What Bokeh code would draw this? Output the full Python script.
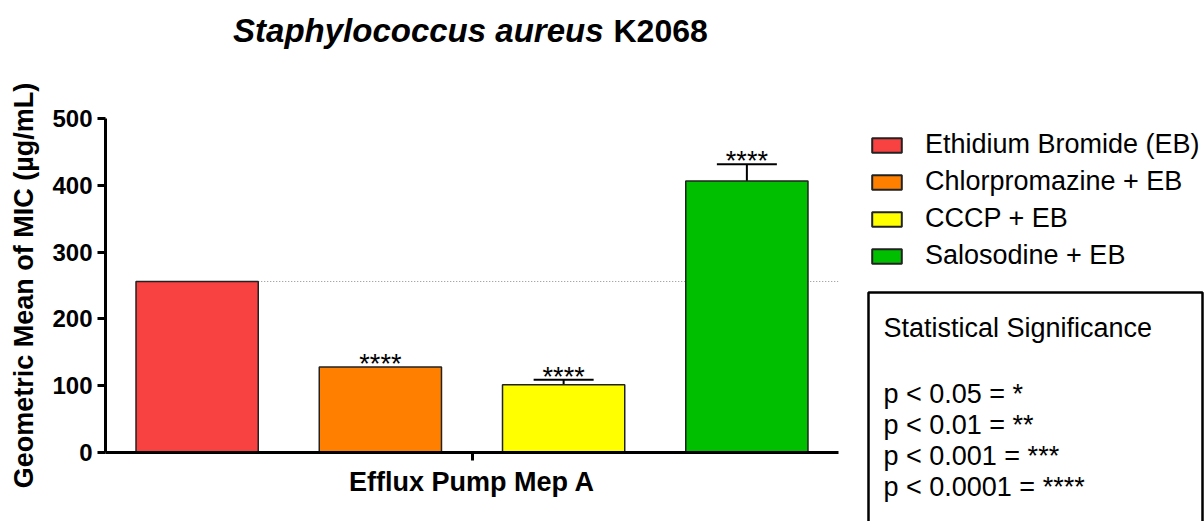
from bokeh.plotting import figure
from bokeh.layouts import column, row
from bokeh.models import (ColumnDataSource, Legend, LegendItem, BoxAnnotation,
                          FixedTicker, Whisker, Range1d, TeeHead)
from bokeh.core.properties import value
from bokeh.embed import file_html
from bokeh.resources import INLINE

# ---------------- data ----------------
treatments = ["Ethidium Bromide (EB)", "Chlorpromazine + EB", "CCCP + EB", "Salosodine + EB"]
gm_mic = [256, 128, 101.6, 406.4]
err_low = [256, 128, 95.3, 380.0]
err_high = [256, 128, 108.8, 431.6]
has_err = [False, False, True, True]
sig_marks = ["", "****", "****", "****"]
colors = ["#F84141", "#FF8000", "#FFFF00", "#00BE00"]
y_ticks = [0, 100, 200, 300, 400, 500]
title_italic = "Staphylococcus aureus"
title_plain = "K2068"
x_label = "Efflux Pump Mep A"
y_label = "Geometric Mean of MIC (µg/mL)"
sig_title = "Statistical Significance"
sig_lines = ["p < 0.05 = *", "p < 0.01 = **", "p < 0.001 = ***", "p < 0.0001 = ****"]

FONT = "Liberation Sans"
TOTAL_W, TOTAL_H = 1204, 521
TITLE_H = 60
MAIN_W = 850
SIDE_W = TOTAL_W - MAIN_W
BODY_H = TOTAL_H - TITLE_H


def bare_figure(w, h):
    f = figure(width=w, height=h, output_backend="svg", toolbar_location=None,
               x_axis_type=None, y_axis_type=None,
               x_range=Range1d(0, w), y_range=Range1d(h, 0),
               min_border_left=0, min_border_right=0, min_border_top=0, min_border_bottom=0)
    f.outline_line_color = None
    f.xgrid.visible = False
    f.ygrid.visible = False
    return f


# ---------------- title ----------------
tf = bare_figure(TOTAL_W, TITLE_H)
tf.text(x=[603], y=[30], text=[title_italic], text_align="right", text_baseline="middle",
        text_font=value(FONT), text_font_style="bold italic", text_font_size="33px",
        text_color="black")
tf.text(x=[613], y=[30], text=[title_plain], text_align="left", text_baseline="middle",
        text_font=value(FONT), text_font_style="bold", text_font_size="32px",
        text_color="black")

# ---------------- main chart ----------------
xs = list(range(len(treatments)))
bar_w = 0.667

p = figure(width=MAIN_W, height=BODY_H, output_backend="svg", toolbar_location=None,
           x_range=Range1d(-0.5, len(xs) - 0.5), y_range=Range1d(0, 500),
           min_border_left=105, min_border_right=12, min_border_top=58, min_border_bottom=69)
p.outline_line_color = None
p.xgrid.visible = False
p.ygrid.visible = False

p.segment(x0=[xs[0] + bar_w / 2], x1=[len(xs) - 0.5], y0=[gm_mic[0]], y1=[gm_mic[0]],
          line_color="#8a8a8a", line_width=1, line_dash="1 2")

src = ColumnDataSource(dict(x=xs, top=gm_mic, color=colors, name=treatments))
p.vbar(x="x", top="top", width=bar_w, bottom=0, fill_color="color",
       line_color="#222222", line_width=1.5, source=src)

ex = [x for x, h in zip(xs, has_err) if h]
el = [v for v, h in zip(err_low, has_err) if h]
eh = [v for v, h in zip(err_high, has_err) if h]
esrc = ColumnDataSource(dict(x=ex, lower=el, upper=eh))
p.add_layout(Whisker(base="x", lower="lower", upper="upper", source=esrc,
                     line_color="black", line_width=2,
                     upper_head=TeeHead(size=60, line_width=2, line_color="black"),
                     lower_head=TeeHead(size=60, line_width=2, line_color="black")))

star_x = [x for x, s in zip(xs, sig_marks) if s]
star_y = [max(g, h) + 4.5 for g, h, s in zip(gm_mic, err_high, sig_marks) if s]
star_t = [s for s in sig_marks if s]
p.text(x=star_x, y=star_y, text=star_t, text_align="center", text_baseline="middle",
       text_font=value(FONT), text_font_size="27px", text_color="black")

p.yaxis.ticker = FixedTicker(ticks=y_ticks)
mid = (len(xs) - 1) / 2
p.xaxis.ticker = FixedTicker(ticks=[mid])
p.xaxis.major_label_overrides = {mid: ""}
p.xaxis.major_label_text_font_size = "1px"
for ax in (p.xaxis, p.yaxis):
    ax.axis_line_width = 3
    ax.axis_line_color = "black"
    ax.major_tick_line_width = 3
    ax.major_tick_line_color = "black"
    ax.major_tick_out = 8
    ax.major_tick_in = 0
    ax.minor_tick_line_color = None
    ax.axis_label_text_font = FONT
    ax.axis_label_text_font_style = "bold"
    ax.axis_label_text_font_size = "27px"
    ax.axis_label_text_color = "black"
    ax.major_label_text_font = FONT
    ax.major_label_text_font_style = "bold"
    ax.major_label_text_color = "black"
p.yaxis.major_label_text_font_size = "24px"
p.yaxis.major_label_standoff = 5
p.yaxis.axis_label = y_label
p.yaxis.axis_label_standoff = 10
p.xaxis.axis_label = x_label
p.xaxis.axis_label_standoff = 6

# ---------------- side panel: legend + significance box ----------------
sf = bare_figure(SIDE_W, BODY_H)
lsrc = ColumnDataSource(dict(x=xs, top=gm_mic, color=colors))
lr = sf.vbar(x="x", top="top", width=bar_w, bottom=0, fill_color="color",
             line_color="#222222", line_width=2, source=lsrc, visible=False)
items = [LegendItem(label=t, renderers=[lr], index=i) for i, t in enumerate(treatments)]
legend = Legend(items=items, location=(18, 250), orientation="vertical",
                label_text_font=FONT, label_text_font_size="27px", label_text_color="black",
                glyph_width=37, glyph_height=18, label_standoff=20, spacing=6,
                padding=0, margin=0, border_line_color=None, background_fill_alpha=0,
                inactive_fill_alpha=0)
sf.add_layout(legend, "center")

sf.add_layout(BoxAnnotation(left=18, right=352, top=232, bottom=BODY_H + 20,
                            fill_alpha=0, line_color="black", line_alpha=1, line_width=2.5))
sf.text(x=[33], y=[267], text=[sig_title], text_baseline="alphabetic",
        text_font=value(FONT), text_font_size="27px", text_color="black")
sf.text(x=[33] * len(sig_lines), y=[333.5 + 31 * i for i in range(len(sig_lines))],
        text=sig_lines, text_baseline="alphabetic",
        text_font=value(FONT), text_font_size="27px", text_color="black")

layout = column(tf, row(p, column(sf, spacing=0), spacing=0), spacing=0)
open("out.html", "w").write(file_html(layout, INLINE))
